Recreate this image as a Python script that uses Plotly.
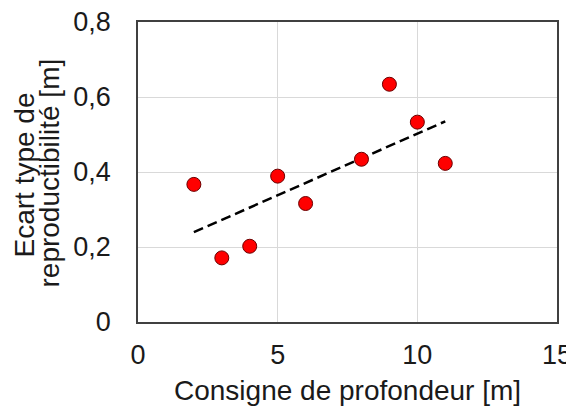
import numpy as np
import plotly.graph_objects as go

depth = [2, 3, 4, 5, 6, 8, 9, 10, 11]
std_dev = [0.367, 0.171, 0.202, 0.389, 0.316, 0.434, 0.634, 0.533, 0.423]
x_ticks = [0, 5, 10, 15]
x_tick_labels = ["0", "5", "10", "15"]
y_ticks = [0, 0.2, 0.4, 0.6, 0.8]
y_tick_labels = ["0", "0,2", "0,4", "0,6", "0,8"]
x_title = "Consigne de profondeur [m]"
y_title_lines = ["Ecart type de", "reproductibilité [m]"]

slope, intercept = np.polyfit(depth, std_dev, 1)
trend_x = [min(depth), max(depth)]
trend_y = [slope * v + intercept for v in trend_x]

font = "Liberation Sans, Arial, sans-serif"
txt = "#1a1a1a"

fig = go.Figure()
fig.add_trace(go.Scatter(
    x=trend_x, y=trend_y, mode="lines",
    line=dict(color="black", width=2.5, dash="10px,5px"),
    showlegend=False, hoverinfo="skip",
))
fig.add_trace(go.Scatter(
    x=depth, y=std_dev, mode="markers",
    marker=dict(color="#ff0000", size=14, line=dict(color="#6b0000", width=1)),
    showlegend=False,
))

fig.update_layout(
    width=566, height=400,
    margin=dict(l=130, r=17, t=14, b=86),
    paper_bgcolor="white", plot_bgcolor="white",
    font=dict(family=font, size=27, color=txt),
    xaxis=dict(
        range=[0, 15], tickvals=x_ticks, ticktext=x_tick_labels,
        showgrid=True, gridcolor="#d9d9d9", gridwidth=1,
        showline=True, linecolor="#404040", linewidth=1.5, mirror=True,
        zeroline=False, ticks="", ticklabelstandoff=8,
        ticklabeloverflow="allow", automargin=False,
        tickfont=dict(family=font, size=27, color=txt),
    ),
    yaxis=dict(
        range=[0, 0.8], tickvals=y_ticks, ticktext=y_tick_labels,
        showgrid=True, gridcolor="#d9d9d9", gridwidth=1,
        showline=True, linecolor="#404040", linewidth=1.5, mirror=True,
        zeroline=False, ticks="", ticklabelstandoff=20,
        ticklabeloverflow="allow", automargin=False,
        tickfont=dict(family=font, size=27, color=txt),
    ),
    annotations=[
        dict(text=x_title, xref="paper", yref="paper", x=0.5, y=0,
             xanchor="center", yanchor="middle", yshift=-68, showarrow=False,
             font=dict(family=font, size=28, color=txt)),
        dict(text=y_title_lines[0], xref="paper", yref="paper", x=0, y=0.5,
             xanchor="center", yanchor="middle", xshift=-114, yshift=-3.5,
             textangle=-90, showarrow=False,
             font=dict(family=font, size=28, color=txt)),
        dict(text=y_title_lines[1], xref="paper", yref="paper", x=0, y=0.5,
             xanchor="center", yanchor="middle", xshift=-89, yshift=-1.5,
             textangle=-90, showarrow=False,
             font=dict(family=font, size=28, color=txt)),
    ],
)

fig.write_html("out.html")
